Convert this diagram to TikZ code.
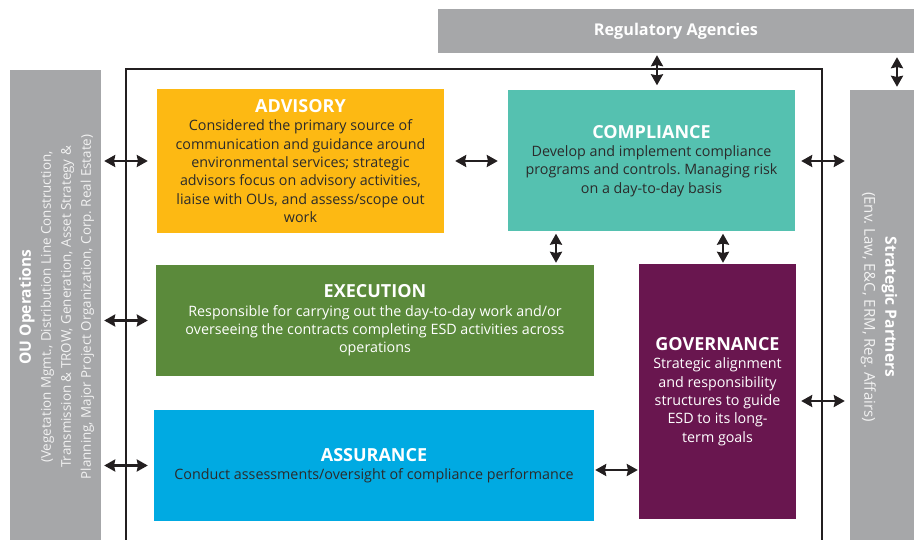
\documentclass[tikz,border=0pt]{standalone}
\usepackage{fontspec}
\setmainfont{Open Sans}
\usetikzlibrary{arrows.meta}
\frenchspacing

\definecolor{panelgray}{HTML}{A6A7A9}
\definecolor{advisoryc}{HTML}{FDB913}
\definecolor{compliancec}{HTML}{55C1B0}
\definecolor{executionc}{HTML}{5B8A3B}
\definecolor{assurancec}{HTML}{00AAE2}
\definecolor{governancec}{HTML}{69164F}
\definecolor{inkc}{HTML}{231F20}
\definecolor{bodydark}{HTML}{2B2B2B}
\definecolor{paletext}{HTML}{F2F2F2}

\newcommand\bodyfont{\fontsize{14.3}{18.3}\selectfont}
\newcommand\headfont{\fontsize{18}{19}\selectfont\bfseries}
\newcommand\sidefont{\fontsize{13.4}{20}\selectfont}

\begin{document}
\begin{tikzpicture}[x=1pt,y=-1pt,
  box/.style={rectangle, inner sep=0pt, align=center, font=\bodyfont},
  grayband/.style={rectangle, inner sep=0pt, fill=panelgray},
  dbl/.style={line width=2.6pt, draw=inkc,
    {Stealth[length=11pt,width=12pt,inset=1.2pt]}-{Stealth[length=11pt,width=12pt,inset=1.2pt]}}
]
\useasboundingbox (0,0) rectangle (921,540);

% outer frame of the department
\draw[line width=2pt, draw=inkc] (126,540) -- (126,69) -- (822,69) -- (822,540);

% surrounding parties
\node[grayband, minimum width=476pt, minimum height=44pt, text=white,
      font=\fontsize{16.2}{17}\selectfont\bfseries] (reg) at (676,31) {Regulatory Agencies};
\node[grayband, minimum width=91pt, minimum height=470pt] (ou) at (55.5,305) {};
\node[rotate=90, align=center, inner sep=0pt, font=\sidefont, text=paletext] (outext) at (56.5,307)
  {\textcolor{white}{\fontsize{15.6}{20}\selectfont\bfseries OU Operations}\\
   (Vegetation Mgmt., Distribution Line Construction,\\
   Transmission \& TROW, Generation, Asset Strategy \&\\
   Planning, Major Project Organization, Corp. Real Estate)};
\node[grayband, minimum width=64pt, minimum height=450pt] (sp) at (882,315) {};
\node[rotate=-90, align=center, inner sep=0pt, font=\fontsize{15}{21}\selectfont, text=paletext] (sptext) at (879,307)
  {\textcolor{white}{\fontsize{15.6}{21}\selectfont\bfseries Strategic Partners}\\
   (Env. Law, E\&C, ERM, Reg. Affairs)};

% functional areas
\node[box, fill=advisoryc, minimum width=287pt, minimum height=144pt, text=bodydark] (adv) at (300.5,161)
  {\textcolor{white}{\headfont ADVISORY}\\
   Considered the primary source of\\
   communication and guidance around\\
   environmental services; strategic\\
   advisors focus on advisory activities,\\
   liaise with OUs, and assess/scope out\\
   work};
\node[box, fill=compliancec, minimum width=287pt, minimum height=141pt, text=bodydark] (comp) at (651.5,161)
  {\textcolor{white}{\headfont COMPLIANCE}\\
   Develop and implement compliance\\
   programs and controls. Managing risk\\
   on a day-to-day basis};
\node[box, fill=executionc, minimum width=438pt, minimum height=111pt, text=white] (exec) at (375,320.5)
  {{\headfont EXECUTION}\\
   Responsible for carrying out the day-to-day work and/or\\
   overseeing the contracts completing ESD activities across\\
   operations};
\node[box, fill=assurancec, minimum width=440pt, minimum height=111pt, text=bodydark] (ass) at (374,465.5)
  {\textcolor{white}{\headfont ASSURANCE}\\
   Conduct assessments/oversight of compliance performance};
\node[box, fill=governancec, minimum width=157pt, minimum height=255pt, text=white] (gov) at (717.5,391.5)
  {{\headfont GOVERNANCE}\\
   Strategic alignment\\
   and responsibility\\
   structures to guide\\
   ESD to its long-\\
   term goals};

% reference lines for the connectors
\coordinate (cx1) at (556,0);
\coordinate (cx2) at (723,0);
\coordinate (cx3) at (657,0);
\coordinate (cx4) at (897,0);
\coordinate (gy) at (0,401);
\coordinate (ay) at (0,470);

% interactions
\draw[dbl, shorten <=3pt, shorten >=9pt] (ou.east |- adv.west) -- (adv.west);
\draw[dbl, shorten <=3pt, shorten >=8pt] (ou.east |- exec.west) -- (exec.west);
\draw[dbl, shorten <=3pt, shorten >=6pt] (ou.east |- ass.west) -- (ass.west);
\draw[dbl, shorten <=11pt, shorten >=10pt] (adv.east) -- (comp.west |- adv.east);
\draw[dbl, shorten <=6pt, shorten >=5pt] (comp.east) -- (sp.west |- comp.east);
\draw[dbl, shorten <=5pt, shorten >=5pt] (gov.east |- gy) -- (sp.west |- gy);
\draw[dbl, shorten <=1pt, shorten >=1pt] (ass.east |- ay) -- (gov.west |- ay);
\draw[dbl, shorten <=2pt, shorten >=2pt] (comp.south -| cx1) -- (exec.north -| cx1);
\draw[dbl, shorten <=2pt, shorten >=1pt] (comp.south -| cx2) -- (gov.north -| cx2);
\draw[dbl, shorten <=2pt, shorten >=5pt] (reg.south -| cx3) -- (comp.north -| cx3);
\draw[dbl, shorten <=4pt, shorten >=3pt] (reg.south -| cx4) -- (sp.north -| cx4);
\end{tikzpicture}
\end{document}
